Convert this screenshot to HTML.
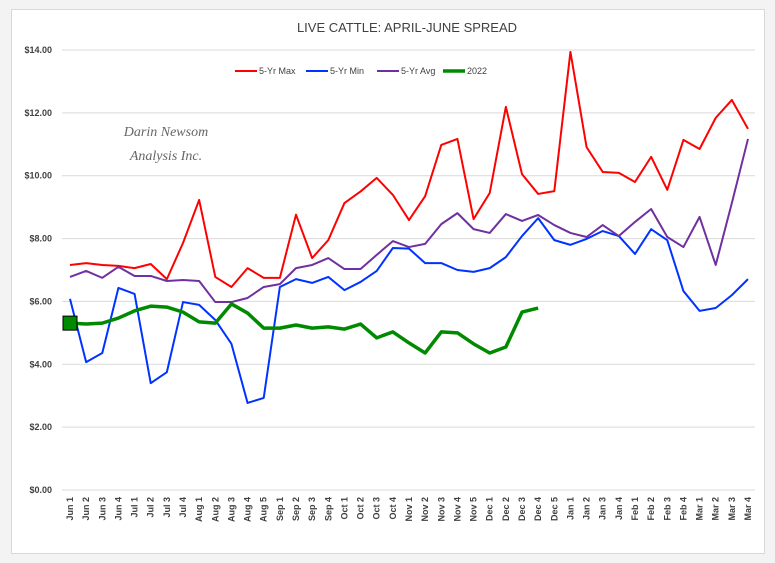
<!DOCTYPE html>
<html><head><meta charset="utf-8"><style>
body{margin:0;width:775px;height:563px;background:#f3f3f3;overflow:hidden;font-family:"Liberation Sans",sans-serif}
#frame{position:absolute;left:11px;top:9px;width:752px;height:543px;background:#fff;border:1px solid #d9d9d9}
</style></head><body>
<div id="frame"></div>
<svg id="chart" width="775" height="563" style="position:absolute;left:0;top:0">
<text x="407" y="32" text-anchor="middle" font-size="13" fill="#404040">LIVE CATTLE: APRIL-JUNE SPREAD</text>
<g font-family="Liberation Serif, serif" font-style="italic" font-size="14" fill="#666" text-anchor="middle">
<text x="166" y="136">Darin Newsom</text><text x="166" y="160">Analysis Inc.</text></g>
<g id="grid"></g><g id="ylab"></g><g id="xlab"></g><g id="series"></g>
<g id="legend" font-size="9" fill="#404040"></g>
</svg>
<script>
const categories=["Jun 1","Jun 2","Jun 3","Jun 4","Jul 1","Jul 2","Jul 3","Jul 4","Aug 1","Aug 2","Aug 3","Aug 4","Aug 5","Sep 1","Sep 2","Sep 3","Sep 4","Oct 1","Oct 2","Oct 3","Oct 4","Nov 1","Nov 2","Nov 3","Nov 4","Nov 5","Dec 1","Dec 2","Dec 3","Dec 4","Dec 5","Jan 1","Jan 2","Jan 3","Jan 4","Feb 1","Feb 2","Feb 3","Feb 4","Mar 1","Mar 2","Mar 3","Mar 4"];
const maxVals=[7.16,7.22,7.16,7.13,7.06,7.19,6.71,7.86,9.23,6.78,6.46,7.06,6.75,6.75,8.76,7.38,7.95,9.13,9.5,9.93,9.39,8.59,9.35,10.98,11.17,8.62,9.45,12.19,10.05,9.42,9.51,13.94,10.91,10.12,10.09,9.8,10.6,9.55,11.14,10.85,11.84,12.41,11.49];
const minVals=[6.08,4.07,4.36,6.43,6.24,3.4,3.75,5.98,5.89,5.41,4.65,2.77,2.93,6.46,6.71,6.59,6.78,6.36,6.62,6.97,7.7,7.68,7.22,7.22,7.0,6.94,7.06,7.41,8.08,8.65,7.95,7.8,7.99,8.24,8.08,7.51,8.3,7.95,6.33,5.7,5.79,6.2,6.71];
const avgVals=[6.78,6.97,6.75,7.1,6.81,6.81,6.65,6.68,6.65,5.98,5.98,6.11,6.46,6.55,7.06,7.16,7.38,7.03,7.03,7.48,7.92,7.73,7.83,8.46,8.81,8.3,8.18,8.78,8.56,8.75,8.43,8.18,8.05,8.43,8.08,8.53,8.94,8.05,7.73,8.69,7.16,9.13,11.17];
const vals2022=[5.31,5.28,5.31,5.47,5.7,5.85,5.82,5.66,5.35,5.31,5.92,5.63,5.15,5.15,5.25,5.15,5.19,5.12,5.28,4.84,5.03,4.68,4.36,5.03,5.0,4.65,4.36,4.55,5.66,5.79];
const yTicks=[0,2,4,6,8,10,12,14];
const yTickLabels=["$0.00","$2.00","$4.00","$6.00","$8.00","$10.00","$12.00","$14.00"];
const NS="http://www.w3.org/2000/svg";
const x=i=>70+i*(678/(categories.length-1));
const y=v=>490-v*(440/14);
function mk(t,a,p){const e=document.createElementNS(NS,t);for(const k in a)e.setAttribute(k,a[k]);p.appendChild(e);return e;}
const grid=document.getElementById('grid'),ylab=document.getElementById('ylab'),xlab=document.getElementById('xlab'),ser=document.getElementById('series'),leg=document.getElementById('legend');
yTicks.forEach((v,i)=>{
 const l=mk('line',{x1:62,x2:755,y1:y(v),y2:y(v),stroke:'#d9d9d9','stroke-width':1},grid);
 
 
 const t=mk('text',{x:52,y:y(v)+3,'text-anchor':'end','font-size':9,'font-weight':'bold',fill:'#404040'},ylab);
 t.textContent=yTickLabels[i];
 
 
});
categories.forEach((c,i)=>{
 const t=mk('text',{transform:`translate(${x(i)+3},497) rotate(-90)`,'text-anchor':'end','font-size':9,'font-weight':'bold',fill:'#404040'},xlab);
 t.textContent=c;
 
 
});
function line(vals,color,w,name){
 const p=mk('polyline',{points:vals.map((v,i)=>x(i)+','+y(v)).join(' '),fill:'none',stroke:color,'stroke-width':w,'stroke-linejoin':'round'},ser);
 
 
}
line(maxVals,'#ff0000',2,'series-5yr-max');
line(minVals,'#0033ff',2,'series-5yr-min');
line(avgVals,'#7030a0',2,'series-5yr-avg');
line(vals2022,'#008a00',3.5,'series-2022');
const mkr=mk('rect',{x:x(0)-7,y:y(vals2022[0])-7,width:14,height:14,fill:'#008a00',stroke:'#000','stroke-width':1},ser);


[["5-Yr Max",'#ff0000',235,2],["5-Yr Min",'#0033ff',306,2],["5-Yr Avg",'#7030a0',377,2],["2022",'#008a00',443,3.5]].forEach(([n,c,lx,w])=>{
 const g=mk('g',{},leg);
 
 
 mk('line',{x1:lx,x2:lx+22,y1:71,y2:71,stroke:c,'stroke-width':w},g);
 const t=mk('text',{x:lx+24,y:74},g);t.textContent=n;
});
</script>
</body></html>
